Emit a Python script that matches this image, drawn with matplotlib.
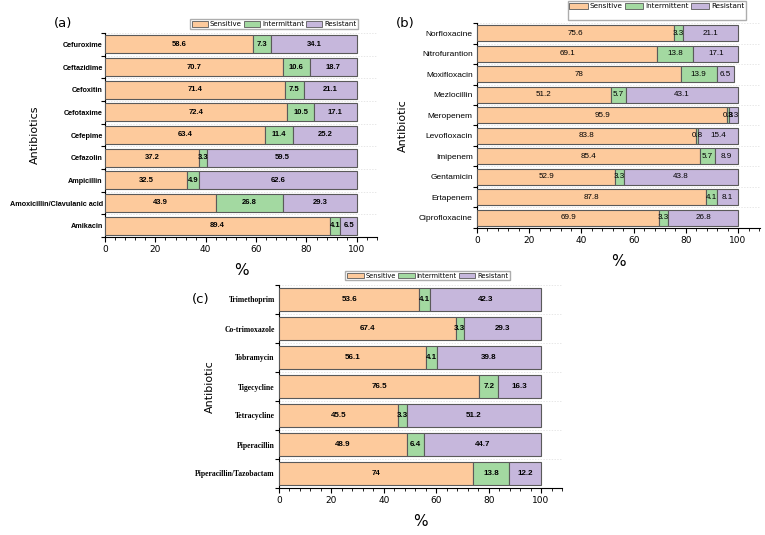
import numpy as np
import matplotlib
matplotlib.use("Agg")
import matplotlib.pyplot as plt
from matplotlib.ticker import MultipleLocator, FixedLocator
from matplotlib.patches import Patch

# ---- Data (top to bottom as displayed) ----
drugs_a = ["Cefuroxime", "Ceftazidime", "Cefoxitin", "Cefotaxime", "Cefepime",
           "Cefazolin", "Ampicillin", "Amoxicillin/Clavulanic acid", "Amikacin"]
sens_a = [58.6, 70.7, 71.4, 72.4, 63.4, 37.2, 32.5, 43.9, 89.4]
inter_a = [7.3, 10.6, 7.5, 10.5, 11.4, 3.3, 4.9, 26.8, 4.1]
res_a = [34.1, 18.7, 21.1, 17.1, 25.2, 59.5, 62.6, 29.3, 6.5]

drugs_b = ["Norfloxacine", "Nitrofurantion", "Moxifloxacin", "Mezlocillin", "Meropenem",
           "Levofloxacin", "Imipenem", "Gentamicin", "Ertapenem", "Ciprofloxacine"]
sens_b = [75.6, 69.1, 78, 51.2, 95.9, 83.8, 85.4, 52.9, 87.8, 69.9]
inter_b = [3.3, 13.8, 13.9, 5.7, 0.8, 0.8, 5.7, 3.3, 4.1, 3.3]
res_b = [21.1, 17.1, 6.5, 43.1, 3.3, 15.4, 8.9, 43.8, 8.1, 26.8]

drugs_c = ["Trimethoprim", "Co-trimoxazole", "Tobramycin", "Tigecycline",
           "Tetracycline", "Piperacillin", "Piperacillin/Tazobactam"]
sens_c = [53.6, 67.4, 56.1, 76.5, 45.5, 48.9, 74]
inter_c = [4.1, 3.3, 4.1, 7.2, 3.3, 6.4, 13.8]
res_c = [42.3, 29.3, 39.8, 16.3, 51.2, 44.7, 12.2]

C_SENS = "#fdca9c"
C_INT = "#a3d9a1"
C_RES = "#c6b7dc"
EDGE = "#5a5a5a"

fig = plt.figure(figsize=(7.65, 5.35), dpi=100)


def panel(rect, drugs, sens, inter, res, xmax, lab_font, val_font, ylabel, ylab_x):
    ax = fig.add_axes(rect)
    y = np.arange(len(drugs))
    s = np.array(sens, float)
    i = np.array(inter, float)
    r = np.array(res, float)
    kw = dict(height=0.8, edgecolor=EDGE, linewidth=0.8, zorder=3)
    ax.barh(y, s, color=C_SENS, **kw)
    ax.barh(y, i, left=s, color=C_INT, **kw)
    ax.barh(y, r, left=s + i, color=C_RES, **kw)
    for k in range(len(drugs)):
        for left, w in ((0, s[k]), (s[k], i[k]), (s[k] + i[k], r[k])):
            ax.text(left + w / 2, y[k], f"{w:g}", ha="center", va="center",
                    zorder=4, **val_font)
    ax.set_ylim(len(drugs) - 0.5, -0.5)
    ax.set_xlim(0, xmax)
    ax.set_yticks(y)
    ax.set_yticklabels(drugs, **lab_font)
    ax.tick_params(axis="y", which="major", length=0, pad=3)
    ax.yaxis.set_minor_locator(FixedLocator(np.arange(len(drugs) + 1) - 0.5))
    ax.tick_params(axis="y", which="minor", length=3, width=0.8)
    ax.grid(axis="y", which="minor", color="#dddddd", linestyle=(0, (2, 2)),
            linewidth=0.5, zorder=0)
    ax.xaxis.set_major_locator(MultipleLocator(20))
    ax.xaxis.set_minor_locator(MultipleLocator(4))
    ax.tick_params(axis="x", which="major", length=3.5, width=0.8, labelsize=6.5,
                   pad=2)
    ax.tick_params(axis="x", which="minor", length=2, width=0.6)
    for sp in ("top", "right"):
        ax.spines[sp].set_visible(False)
    for sp in ("left", "bottom"):
        ax.spines[sp].set_linewidth(0.8)
    ax.set_ylabel(ylabel, fontsize=8)
    ax.yaxis.set_label_coords(ylab_x, 0.5)
    return ax


def legend(labels, anchor, fs, hl, extra_row=False):
    handles = [Patch(facecolor=c, edgecolor=EDGE, linewidth=0.6)
               for c in (C_SENS, C_INT, C_RES)]
    labs = list(labels)
    if extra_row:
        # blank second row, the reference box is taller than its entries
        blank = Patch(facecolor="none", edgecolor="none")
        handles = [handles[0], blank, handles[1], blank, handles[2], blank]
        labs = [labs[0], " ", labs[1], " ", labs[2], " "]
    fig.legend(handles, labs, loc="upper right", bbox_to_anchor=anchor,
               ncol=3, fontsize=fs, frameon=True, fancybox=False,
               edgecolor="#999999", handlelength=hl, handleheight=0.9,
               handletextpad=0.3, columnspacing=0.3, borderpad=0.25,
               labelspacing=0.3, borderaxespad=0)


# (a)
ax_a = panel([105 / 765, 1 - 237 / 535, 272 / 765, 204 / 535], drugs_a, sens_a,
             inter_a, res_a, 108,
             dict(fontsize=5.2, fontweight="bold", family="Liberation Sans"),
             dict(fontsize=5.5, fontweight="bold", family="Liberation Sans"),
             "Antibiotics", -0.24)
ax_a.tick_params(axis="y", which="major", pad=1.5)
ax_a.set_xlabel("%", fontsize=11, labelpad=7)
fig.text(63 / 765, 1 - 23 / 535, "(a)", fontsize=9.5, va="center", ha="center")
legend(["Sensitive", "Intermittant", "Resistant"],
       (358 / 765, 1 - 19 / 535), 5, 2.3)

# (b)
ax_b = panel([477 / 765, 1 - 228 / 535, 283 / 765, 205 / 535], drugs_b, sens_b,
             inter_b, res_b, 108.4,
             dict(fontsize=6, family="Liberation Sans"),
             dict(fontsize=5.8, family="Liberation Sans"),
             "Antibiotic", -0.245)
ax_b.set_xlabel("%", fontsize=11, labelpad=7)
fig.text(405 / 765, 1 - 24 / 535, "(b)", fontsize=9.5, va="center", ha="center")
legend(["Sensitive", "Intermittent", "Resistant"],
       (746 / 765, 1 - 1 / 535), 5.2, 2.5, extra_row=True)

# (c)
ax_c = panel([279 / 765, 1 - 488 / 535, 283 / 765, 203 / 535], drugs_c, sens_c,
             inter_c, res_c, 108,
             dict(fontsize=5.5, fontweight="bold", family="Liberation Serif"),
             dict(fontsize=5.8, fontweight="bold", family="Liberation Sans"),
             "Antibiotic", -0.225)
ax_c.set_xlabel("%", fontsize=11, labelpad=7)
fig.text(201 / 765, 1 - 299 / 535, "(c)", fontsize=9.5, va="center", ha="center")
legend(["Sensitive", "Intermittent", "Resistant"],
       (510 / 765, 1 - 271 / 535), 4.8, 2.5)

fig.savefig("out.png", dpi=100)
